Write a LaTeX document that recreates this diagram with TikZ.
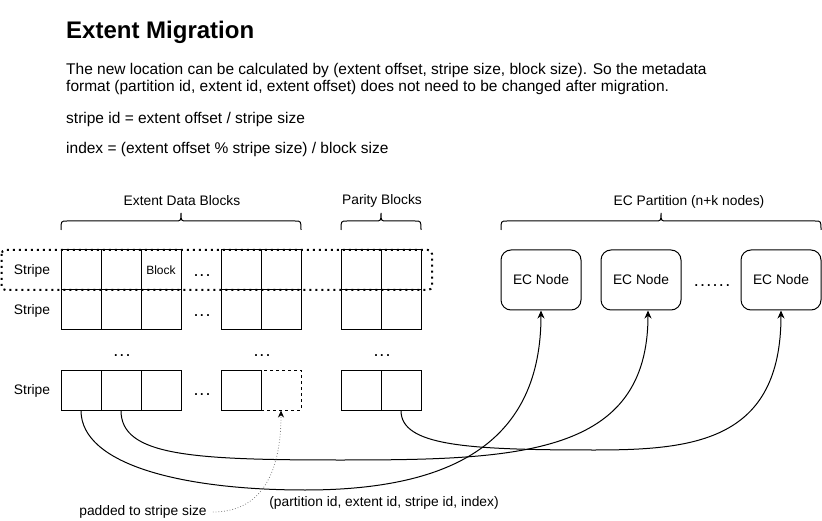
\documentclass[tikz,border=0pt]{standalone}
\usepackage{fontspec}
\setmainfont{Liberation Sans}
\usetikzlibrary{arrows.meta, positioning}
\tikzstyle{cell} = [rectangle, minimum width=40pt, minimum height=40pt, inner sep=0pt, draw=black, line width=1pt]
\tikzstyle{padcell} = [cell, dash pattern=on 3pt off 3pt]
\tikzstyle{ecnode} = [rectangle, rounded corners=10pt, minimum width=80pt, minimum height=60pt, draw=black, line width=1pt, font=\fontsize{13.8}{16}\selectfont]
\tikzstyle{note} = [inner sep=0pt, font=\fontsize{13.8}{16}\selectfont]
\tikzstyle{gap} = [inner sep=0pt, font=\fontsize{18}{20}\selectfont]
\tikzstyle{para} = [anchor=base west, inner sep=0pt, font=\fontsize{15.5}{18}\selectfont]
\tikzstyle{bracket} = [line width=1pt]
\tikzstyle{stripeframe} = [line width=2pt, dash pattern=on 2pt off 4pt, rounded corners=4pt]
\tikzstyle{link} = [line width=1pt, -{Stealth[length=8pt, width=7pt]}]
\tikzstyle{hint} = [gray, line width=0.8pt, dotted, -{Stealth[length=7pt, width=6pt, color=black]}]

\begin{document}
\begin{tikzpicture}[x=1pt, y=-1pt, node distance=40pt]
    \useasboundingbox (0,0) rectangle (822,521);

    % heading
    \node (title) [anchor=base west, inner sep=0pt, font=\bfseries\fontsize{24}{28}\selectfont] at (66,39) {Extent Migration};
    \node (desc1) [para] at (66,75) {The new location can be calculated by (extent offset, stripe size, block size). So the metadata};
    \node (desc2) [para] at (66,92) {format (partition id, extent id, extent offset) does not need to be changed after migration.};
    \node (rule1) [para] at (66,124) {stripe id = extent offset / stripe size};
    \node (rule2) [para] at (66,154) {index = (extent offset \% stripe size) / block size};

    % braces
    \draw [bracket] (61,230) .. controls (61,221) .. (67,221) -- (175,221) .. controls (181,221) .. (181,213) .. controls (181,221) .. (187,221) -- (295,221) .. controls (301,221) .. (301,230);
    \draw [bracket] (341,230) .. controls (341,221) .. (347,221) -- (375,221) .. controls (381,221) .. (381,213) .. controls (381,221) .. (387,221) -- (415,221) .. controls (421,221) .. (421,230);
    \draw [bracket] (501,230) .. controls (501,221) .. (507,221) -- (655,221) .. controls (661,221) .. (661,213) .. controls (661,221) .. (667,221) -- (815,221) .. controls (821,221) .. (821,230);
    \node (datahead) [note] at (182,201) {Extent Data Blocks};
    \node (parityhead) [note] at (382,201) {Parity Blocks};
    \node (parthead) [note] at (689,202) {EC Partition (n+k nodes)};

    % first stripe
    \node (a11) [cell] at (81,270) {};
    \node (a12) [cell, right of=a11] {};
    \node (a13) [cell, right of=a12, font=\fontsize{12}{14}\selectfont] {Block};
    \node (a14) [cell, right of=a13, xshift=40pt] {};
    \node (a15) [cell, right of=a14] {};
    \node (a16) [cell, right of=a15, xshift=40pt] {};
    \node (a17) [cell, right of=a16] {};

    % second stripe
    \node (a21) [cell, below of=a11] {};
    \node (a22) [cell, right of=a21] {};
    \node (a23) [cell, right of=a22] {};
    \node (a24) [cell, right of=a23, xshift=40pt] {};
    \node (a25) [cell, right of=a24] {};
    \node (a26) [cell, right of=a25, xshift=40pt] {};
    \node (a27) [cell, right of=a26] {};

    % last stripe
    \node (a31) [cell, below of=a21, yshift=-40pt] {};
    \node (a32) [cell, right of=a31] {};
    \node (a33) [cell, right of=a32] {};
    \node (a35) [padcell, right of=a33, xshift=80pt] {};
    \node (a34) [cell, right of=a33, xshift=40pt] {};
    \node (a36) [cell, right of=a35, xshift=40pt] {};
    \node (a37) [cell, right of=a36] {};

    \node (s1) [note] at (32,271) {Stripe};
    \node (s2) [note] at (32,311) {Stripe};
    \node (s3) [note] at (32,391) {Stripe};

    \node (g1) [gap] at (202,276) {.\kern1pt.\kern1pt.};
    \node (g2) [gap] at (202,316) {.\kern1pt.\kern1pt.};
    \node (g3) [gap] at (202,395) {.\kern1pt.\kern1pt.};
    \node (g4) [gap] at (122,356) {.\kern1pt.\kern1pt.};
    \node (g5) [gap] at (262,356) {.\kern1pt.\kern1pt.};
    \node (g6) [gap] at (382,356) {.\kern1pt.\kern1pt.};

    \draw [stripeframe] (1.5,250) rectangle (432,290);

    % EC nodes
    \node (ec1) [ecnode] at (541,280) {EC Node};
    \node (ec2) [ecnode, right of=ec1, xshift=60pt] {EC Node};
    \node (ec3) [ecnode, right of=ec2, xshift=100pt] {EC Node};
    \node (g7) [gap] at (712,286) {.\kern1.3pt.\kern1.3pt.\kern1.3pt.\kern1.3pt.\kern1.3pt.};

    % placement
    \draw [link] (a31.south) .. controls +(0,55) and +(-120,0) .. (305,490) .. controls +(150,0) and +(0,130) .. (ec1.south);
    \draw [link] (a32.south) .. controls +(0,45) and +(-150,0) .. (340,460) .. controls +(180,0) and +(0,145) .. ([xshift=7pt]ec2.south);
    \draw [link] (a37.south) .. controls +(0,35) and +(-130,0) .. (595,450) .. controls +(100,0) and +(0,130) .. (ec3.south);

    \node (pad) [note] at (143,512) {padded to stripe size};
    \node (key) [note] at (384,503) {(partition id, extent id, stripe id, index)};
    \draw [hint] ([xshift=6pt]pad.east) .. controls +(50,0) and +(0,60) .. (a35.south);
\end{tikzpicture}
\end{document}
